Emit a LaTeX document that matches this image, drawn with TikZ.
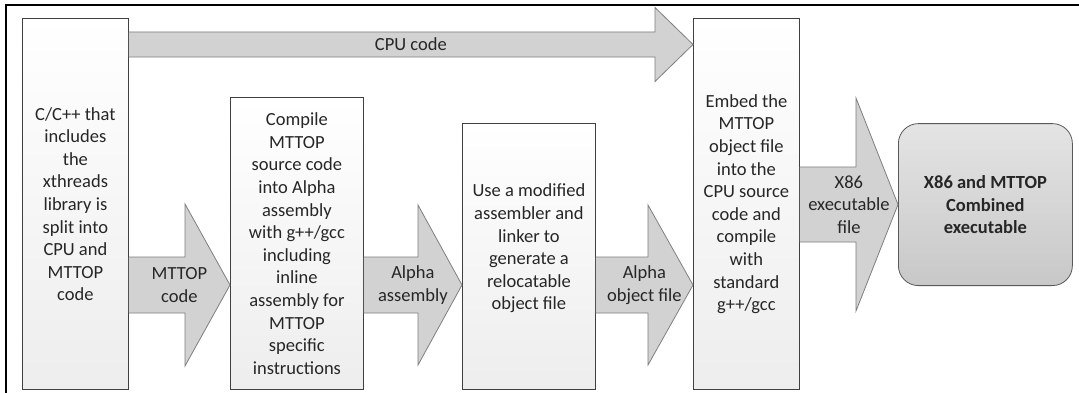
\documentclass[tikz,border=0pt]{standalone}
\usepackage{fontspec}
\setmainfont{Carlito}
\usetikzlibrary{calc}
\definecolor{boxline}{HTML}{404040}
\definecolor{arrfill}{HTML}{D2D2D2}
\definecolor{arrline}{HTML}{7F7F7F}
\definecolor{txt}{HTML}{262626}
\definecolor{fintop}{HTML}{E4E4E4}
\definecolor{finbot}{HTML}{C8C8C8}
\newcommand\blockarr[9]{% from, to, Y, Y+h, Y-h, Y+H, Y-H, L, label
  \path[barrow] (#1.east |- 0,#4) -- ($(#2.west |- 0,#4)+(-#8,0)$) -- ($(#2.west |- 0,#6)+(-#8,0)$)
     -- (#2.west |- 0,#3) -- ($(#2.west |- 0,#7)+(-#8,0)$) -- ($(#2.west |- 0,#5)+(-#8,0)$) -- (#1.east |- 0,#5);
  \path ($(#1.east |- 0,#3)!0.5!(#2.west |- 0,#3)$) node[alabel] {#9};
}
\begin{document}
\begin{tikzpicture}[x=1pt,y=1pt,
  stepbox/.style={draw=boxline, line width=0.8pt, top color=white, bottom color=black!7,
    align=center, inner sep=0pt, font=\fontsize{18.5}{22.6}\selectfont, text=txt, anchor=south west},
  barrow/.style={draw=arrline, line width=0.8pt, fill=arrfill, line join=miter},
  alabel/.style={align=center, inner sep=0pt, font=\fontsize{18.5}{22.6}\selectfont, text=txt},
  boxtext/.style={align=center, inner sep=0pt, font=\fontsize{18.5}{22.6}\selectfont, text=txt},
  finalbox/.style={draw=black!65, line width=0.8pt, top color=fintop, bottom color=finbot,
    rounded corners=20pt, align=center, inner sep=0pt, anchor=south west,
    font=\fontsize{18.5}{22.6}\selectfont\bfseries, text=txt}]
\useasboundingbox (0,0) rectangle (1079,392);
\fill[white] (0,0) rectangle (1079,392);
\begin{scope}
  \clip (0,0) rectangle (1079,392);
  \draw[line width=2pt] (5.5,386.5) rectangle (1100,-20);
\end{scope}
% boxes
\node[stepbox, minimum width=106pt, minimum height=371pt] (src) at (22,2)
  {C/C++ that\\includes\\the\\xthreads\\library is\\split into\\CPU and\\MTTOP\\code};
\node[stepbox, minimum width=133pt, minimum height=292pt] (comp) at (230,2)
  {Compile\\MTTOP\\source code\\into Alpha\\assembly\\with g++/gcc\\including\\inline\\assembly for\\MTTOP\\specific\\instructions};
\node[stepbox, minimum width=133pt, minimum height=266pt] (asmb) at (462,2) {};
\node[boxtext] (asmbt) at ($(asmb.center)+(0,8)$)
  {Use a modified\\assembler and\\linker to\\generate a\\relocatable\\object file};
\node[stepbox, minimum width=106pt, minimum height=371pt] (embed) at (693,2)
  {Embed the\\MTTOP\\object file\\into the\\CPU source\\code and\\compile\\with\\standard\\g++/gcc};
\node[finalbox, minimum width=174pt, minimum height=162pt] (final) at (898,106)
  {X86 and MTTOP\\Combined\\executable};
% block arrows
\blockarr{src}{embed}{347.5}{360}{335}{384.5}{310.5}{38}{CPU code}
\blockarr{src}{comp}{107}{135}{79}{188}{26}{45}{MTTOP\\code}
\blockarr{comp}{asmb}{107}{135}{79}{187}{27}{44}{Alpha\\assembly}
\blockarr{asmb}{embed}{107}{135}{79}{187}{27}{45}{Alpha\\object file}
\blockarr{embed}{final}{187.5}{225}{150}{294}{81}{42}{X86\\executable\\file}
\end{tikzpicture}
\end{document}
